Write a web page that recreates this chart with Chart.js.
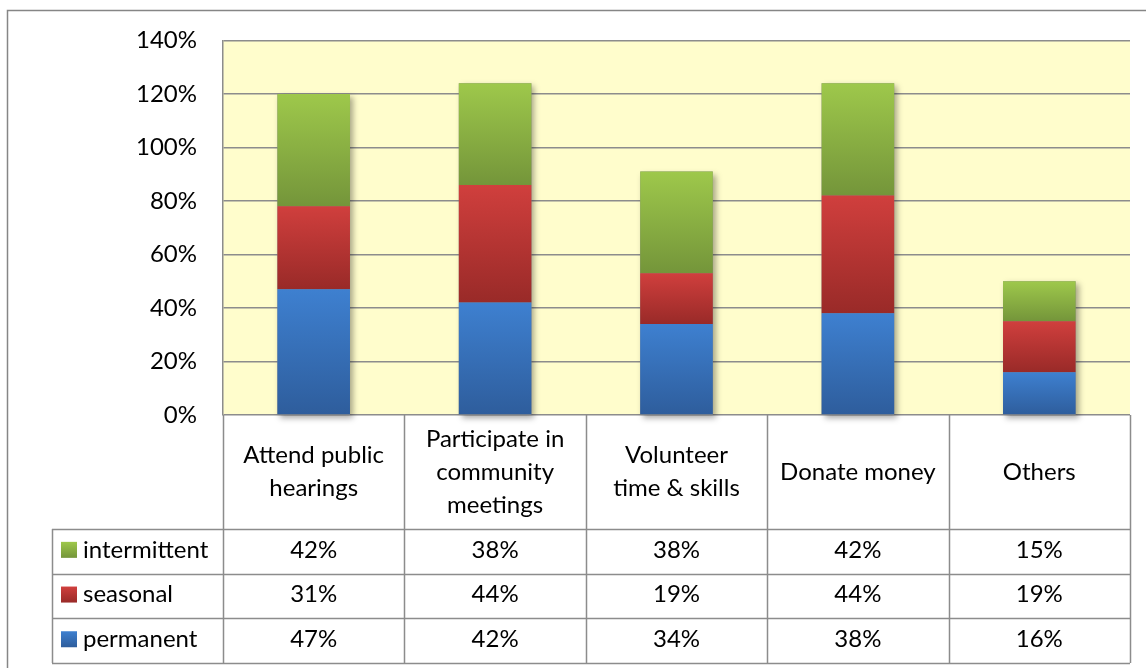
<!DOCTYPE html>
<html>
<head>
<meta charset="utf-8">
<script src="https://cdn.jsdelivr.net/npm/chart.js@4.4.0/dist/chart.umd.min.js"></script>
<style>
  html, body { margin: 0; padding: 0; background: #fff; }
  #wrap { width: 1146px; height: 668px; }
</style>
</head>
<body>
<div id="wrap"><canvas id="chart"></canvas></div>
<script>
// Chart data
const categories = [
    ['Attend public', 'hearings'],
    ['Participate in', 'community', 'meetings'],
    ['Volunteer', 'time & skills'],
    ['Donate money'],
    ['Others']
];
const permanent = [47, 42, 34, 38, 16];
const seasonal = [31, 44, 19, 44, 19];
const intermittent = [42, 38, 38, 42, 15];
const yMax = 140;
const yStep = 20;

const FONT = 'Lato, "Open Sans", sans-serif';
const FONT_SIZE = 24;
const LINE = '#8c8c8c';

// top/bottom colours of each series gradient
const colors = {
    permanent: ['#3e80d0', '#2e5d9c'],
    seasonal: ['#d03f3d', '#992a28'],
    intermittent: ['#9ec84b', '#74953a']
};

// series listed bottom to top
const series = [
    { label: 'permanent', data: permanent, col: colors.permanent },
    { label: 'seasonal', data: seasonal, col: colors.seasonal },
    { label: 'intermittent', data: intermittent, col: colors.intermittent }
];

function segmentFill(si) {
    return ctx => {
        const chart = ctx.chart;
        const y = chart.scales.y;
        const col = series[si].col;
        if (!y || ctx.dataIndex === undefined) return col[0];
        const i = ctx.dataIndex;
        let base = 0;
        for (let k = 0; k < si; k++) base += series[k].data[i];
        const top = y.getPixelForValue(base + series[si].data[i]);
        const bottom = y.getPixelForValue(base);
        if (!isFinite(top) || !isFinite(bottom) || top === bottom) return col[0];
        const g = chart.ctx.createLinearGradient(0, top, 0, bottom);
        g.addColorStop(0, col[0]);
        g.addColorStop(1, col[1]);
        return g;
    };
}

// yellow plot background, bar shadows and outer frame
const backdrop = {
    id: 'backdrop',
    beforeDraw(chart) {
        const { ctx, chartArea: a } = chart;
        ctx.save();
        ctx.fillStyle = '#fffdcc';
        ctx.fillRect(a.left, a.top, a.right - a.left, a.bottom - a.top);
        ctx.strokeStyle = '#868686';
        ctx.lineWidth = 1.5;
        ctx.strokeRect(7.5, 10.5, 1200, 700);
        ctx.restore();
    },
    beforeDatasetsDraw(chart) {
        const { ctx } = chart;
        const y = chart.scales.y;
        const meta = chart.getDatasetMeta(0);
        ctx.save();
        ctx.shadowColor = 'rgba(0,0,0,0.35)';
        ctx.shadowBlur = 6;
        ctx.shadowOffsetX = 3;
        ctx.shadowOffsetY = 3;
        ctx.fillStyle = '#888';
        meta.data.forEach((bar, i) => {
            const total = series.reduce((s, d) => s + d.data[i], 0);
            const top = y.getPixelForValue(total);
            const bottom = y.getPixelForValue(0);
            ctx.fillRect(bar.x - bar.width / 2, top, bar.width, bottom - top);
        });
        ctx.restore();
    }
};

// data table under the plot
const dataTable = {
    id: 'dataTable',
    afterDraw(chart) {
        const { ctx, chartArea: a } = chart;
        const x = chart.scales.x;
        const colW = (a.right - a.left) / categories.length;
        const headH = 114;
        const rowH = 44.7;
        const tableLeft = 52;
        const headBottom = a.bottom + headH;
        const tableBottom = headBottom + rowH * 3;

        ctx.save();
        ctx.strokeStyle = LINE;
        ctx.lineWidth = 1.5;
        ctx.beginPath();
        // vertical lines
        for (let k = 0; k <= categories.length; k++) {
            const px = Math.round(a.left + k * colW) + 0.5;
            ctx.moveTo(px, a.bottom);
            ctx.lineTo(px, tableBottom);
        }
        ctx.moveTo(tableLeft + 0.5, headBottom);
        ctx.lineTo(tableLeft + 0.5, tableBottom);
        // horizontal lines
        for (let r = 0; r <= 3; r++) {
            const py = Math.round(headBottom + r * rowH) + 0.5;
            ctx.moveTo(tableLeft, py);
            ctx.lineTo(a.right, py);
        }
        ctx.stroke();

        ctx.fillStyle = '#000';
        ctx.font = FONT_SIZE + 'px ' + FONT;
        ctx.textAlign = 'center';
        ctx.textBaseline = 'middle';
        // category headers
        const lineH = 33;
        categories.forEach((lines, i) => {
            const cx = x.getPixelForValue(i);
            const cy = a.bottom + headH / 2;
            lines.forEach((t, j) => {
                ctx.fillText(t, cx, cy + (j - (lines.length - 1) / 2) * lineH);
            });
        });
        // rows: top row is the top series
        const rows = series.slice().reverse();
        rows.forEach((s, r) => {
            const cy = headBottom + r * rowH + rowH / 2 - 1.5;
            s.data.forEach((v, i) => {
                ctx.textAlign = 'center';
                ctx.fillText(v + '%', x.getPixelForValue(i), cy);
            });
            // legend key
            const g = ctx.createLinearGradient(0, cy - 8, 0, cy + 8);
            g.addColorStop(0, s.col[0]);
            g.addColorStop(1, s.col[1]);
            ctx.fillStyle = g;
            ctx.fillRect(61, cy - 8, 16, 16);
            ctx.fillStyle = '#000';
            ctx.textAlign = 'left';
            ctx.fillText(s.label, 83, cy);
        });
        ctx.restore();
    }
};

const ctx = document.getElementById('chart').getContext('2d');
new Chart(ctx, {
    type: 'bar',
    data: {
        labels: categories.map(c => c.join(' ')),
        datasets: series.map((s, si) => ({
            label: s.label,
            data: s.data,
            backgroundColor: segmentFill(si),
            borderWidth: 0,
            barPercentage: 0.4,
            categoryPercentage: 1
        }))
    },
    options: {
        responsive: true,
        maintainAspectRatio: false,
        animation: false,
        layout: { padding: { left: 0, top: 40, right: 16, bottom: 253 } },
        plugins: {
            legend: { display: false },
            tooltip: { enabled: false }
        },
        scales: {
            x: {
                stacked: true,
                display: false
            },
            y: {
                stacked: true,
                min: 0,
                max: yMax,
                ticks: {
                    stepSize: yStep,
                    padding: 26,
                    color: '#000',
                    font: { family: FONT, size: FONT_SIZE },
                    callback: v => v + '%'
                },
                grid: {
                    color: LINE,
                    lineWidth: 1.5,
                    drawTicks: false
                },
                border: { display: true, color: LINE, width: 1.5 },
                afterFit: scale => { scale.width = 223; }
            }
        }
    },
    plugins: [backdrop, dataTable]
});
</script>
</body>
</html>
